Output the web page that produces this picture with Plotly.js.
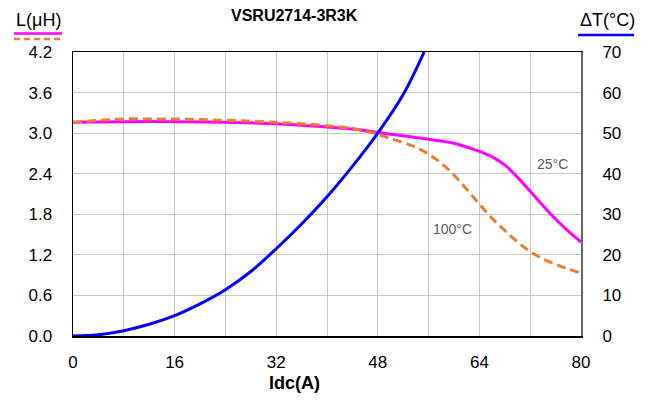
<!DOCTYPE html>
<html>
<head>
<meta charset="utf-8">
<script src="https://cdn.plot.ly/plotly-3.0.1.min.js"></script>
<style>html,body{margin:0;padding:0;background:#fff}#chart{width:656px;height:400px}</style>
</head>
<body>
<div id="chart"></div>
<script>
// Inductance vs current at 25°C
const idc25 = [0, 8, 16, 24, 32, 40, 44, 48, 52, 56, 60, 64, 66, 68, 70, 72, 74, 76, 78, 80];
const l25 = [3.16, 3.17, 3.17, 3.16, 3.14, 3.09, 3.06, 3.01, 2.96, 2.91, 2.85, 2.73, 2.65, 2.53, 2.35, 2.14, 1.93, 1.73, 1.55, 1.39];
// Inductance vs current at 100°C
const idc100 = [0, 4, 8, 12, 16, 20, 24, 28, 32, 36, 40, 44, 46, 48, 50, 52, 54, 56, 58, 60, 62, 64, 66, 68, 70, 72, 74, 76, 78, 80];
const l100 = [3.16, 3.19, 3.21, 3.21, 3.21, 3.2, 3.19, 3.18, 3.16, 3.14, 3.11, 3.07, 3.03, 2.98, 2.92, 2.86, 2.79, 2.69, 2.555, 2.38, 2.17, 1.95, 1.74, 1.56, 1.39, 1.25, 1.14, 1.06, 0.99, 0.93];
// Temperature rise vs current
const idcT = [0, 4, 8, 12, 16, 20, 24, 28, 32, 36, 40, 44, 48, 52, 55.3];
const dT = [0, 0.3, 1.3, 2.9, 5.0, 7.9, 11.4, 15.9, 21.5, 27.6, 34.3, 41.8, 50, 59.5, 70];

const xTicks = [0, 16, 32, 48, 64, 80];
const yLeftTicks = [0, 0.6, 1.2, 1.8, 2.4, 3.0, 3.6, 4.2];
const yRightTicks = [0, 10, 20, 30, 40, 50, 60, 70];

const FONT = 'Liberation Sans, Arial, sans-serif';
const grid = '#c8c8c8';

const traces = [
  {x: idc25, y: l25, mode: 'lines', line: {color: '#FF00FF', width: 3, shape: 'spline', smoothing: 1}, yaxis: 'y', hoverinfo: 'skip'},
  {x: idc100, y: l100, mode: 'lines', line: {color: '#ED7D31', width: 3, dash: '9px,5px', shape: 'spline', smoothing: 1}, yaxis: 'y', hoverinfo: 'skip'},
  {x: idcT, y: dT, mode: 'lines', line: {color: '#0000FF', width: 3, shape: 'spline', smoothing: 1}, yaxis: 'y2', hoverinfo: 'skip'}
];

const layout = {
  width: 656, height: 400,
  margin: {l: 73, r: 75, t: 52, b: 64},
  paper_bgcolor: '#fff', plot_bgcolor: '#fff',
  showlegend: false,
  font: {family: FONT, size: 17, color: '#000'},
  xaxis: {
    range: [0, 80], tickvals: xTicks, ticktext: xTicks.map(String),
    showgrid: true, gridcolor: grid, gridwidth: 1,
    minor: {dtick: 8, tick0: 0, showgrid: true, gridcolor: grid, gridwidth: 1},
    showline: true, linecolor: '#000', linewidth: 1.5, mirror: true,
    zeroline: false, ticks: '', ticklabelstandoff: 10,
    tickfont: {family: FONT, size: 17, color: '#000'}
  },
  yaxis: {
    range: [0, 4.2], tickvals: yLeftTicks, ticktext: yLeftTicks.map(v => v.toFixed(1)),
    showgrid: true, gridcolor: grid, gridwidth: 1,
    showline: true, linecolor: '#000', linewidth: 1.5,
    zeroline: false, ticks: '', ticklabelstandoff: 16,
    tickfont: {family: FONT, size: 17, color: '#000'}
  },
  yaxis2: {
    range: [0, 70], tickvals: yRightTicks, ticktext: yRightTicks.map(String),
    overlaying: 'y', side: 'right',
    showgrid: false, showline: true, linecolor: '#666', linewidth: 2,
    zeroline: false, ticks: '', ticklabelstandoff: 16,
    tickfont: {family: FONT, size: 17, color: '#000'}
  },
  annotations: [
    {text: '<b>VSRU2714-3R3K</b>', xref: 'paper', yref: 'paper', x: (294 - 73) / 508, y: (336 - 16) / 284, showarrow: false, font: {family: FONT, size: 16, color: '#000'}, xanchor: 'center', yanchor: 'middle'},
    {text: '<b>Idc(A)</b>', xref: 'paper', yref: 'paper', x: (294 - 73) / 508, y: (336 - 383) / 284, showarrow: false, font: {family: FONT, size: 18, color: '#000'}, xanchor: 'center', yanchor: 'middle'},
    {text: 'L(μH)', xref: 'paper', yref: 'paper', x: (38 - 73) / 508, y: (336 - 20) / 284, showarrow: false, font: {family: FONT, size: 18, color: '#000'}, xanchor: 'center', yanchor: 'middle'},
    {text: 'ΔT(°C)', xref: 'paper', yref: 'paper', x: (607 - 73) / 508, y: (336 - 20) / 284, showarrow: false, font: {family: FONT, size: 18, color: '#000'}, xanchor: 'center', yanchor: 'middle'},
    {text: '25°C', xref: 'paper', yref: 'paper', x: (552 - 73) / 508, y: (336 - 164) / 284, showarrow: false, font: {family: FONT, size: 14, color: '#595959'}, xanchor: 'center', yanchor: 'middle'},
    {text: '100°C', xref: 'paper', yref: 'paper', x: (452 - 73) / 508, y: (336 - 229) / 284, showarrow: false, font: {family: FONT, size: 14, color: '#595959'}, xanchor: 'center', yanchor: 'middle'}
  ],
  shapes: [
    {type: 'line', xref: 'paper', yref: 'paper', x0: (14 - 73) / 508, x1: (62 - 73) / 508, y0: (336 - 33.5) / 284, y1: (336 - 33.5) / 284, line: {color: '#FF00FF', width: 2.5}},
    {type: 'line', xref: 'paper', yref: 'paper', x0: (14 - 73) / 508, x1: (62 - 73) / 508, y0: (336 - 39) / 284, y1: (336 - 39) / 284, line: {color: '#ED7D31', width: 2.5, dash: '6px,4px'}},
    {type: 'line', xref: 'paper', yref: 'paper', x0: (578 - 73) / 508, x1: (634 - 73) / 508, y0: (336 - 35) / 284, y1: (336 - 35) / 284, line: {color: '#0000FF', width: 2.5}}
  ]
};

Plotly.newPlot('chart', traces, layout, {staticPlot: true, displayModeBar: false});
</script>
</body>
</html>
